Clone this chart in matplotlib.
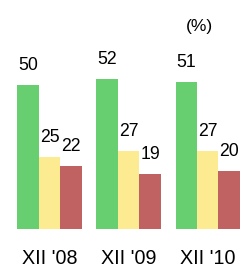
import numpy as np
import matplotlib
matplotlib.use("Agg")
import matplotlib.pyplot as plt

plt.rcParams['font.family'] = ['Liberation Sans', 'DejaVu Sans']

# Data
periods = ["XII '08", "XII '09", "XII '10"]
green_vals = [50, 52, 51]
yellow_vals = [25, 27, 27]
red_vals = [22, 19, 20]

colors = ['#68CF70', '#FDEB91', '#C06262']
series = [green_vals, yellow_vals, red_vals]

fig = plt.figure(figsize=(2.41, 2.67), dpi=100)
ax = fig.add_axes([0, 38 / 267, 1, 229 / 267])

w = 0.271
x = np.arange(len(periods))
for k, vals in enumerate(series):
    pos = x + (k - 1) * w
    bars = ax.bar(pos, vals, width=w, color=colors[k], linewidth=0)
    for b, v in zip(bars, vals):
        ax.annotate(str(v), (b.get_x() + b.get_width() / 2, v),
                    xytext=(0, 8), textcoords='offset points',
                    ha='center', va='bottom', fontsize=12.7)

ax.set_xlim(-0.625, 2.42)
ax.set_ylim(0, 79.5)
ax.axis('off')

# period labels under the groups
for i, p in enumerate(periods):
    ax.annotate(p, (i, 0), xytext=(0, -35 * 0.72), textcoords='offset points',
                ha='center', va='baseline', fontsize=14.2, annotation_clip=False)

fig.text(199 / 241, 1 - 27 / 267, '(%)', ha='center', va='center', fontsize=12.5)

fig.savefig('out.png', dpi=100)
